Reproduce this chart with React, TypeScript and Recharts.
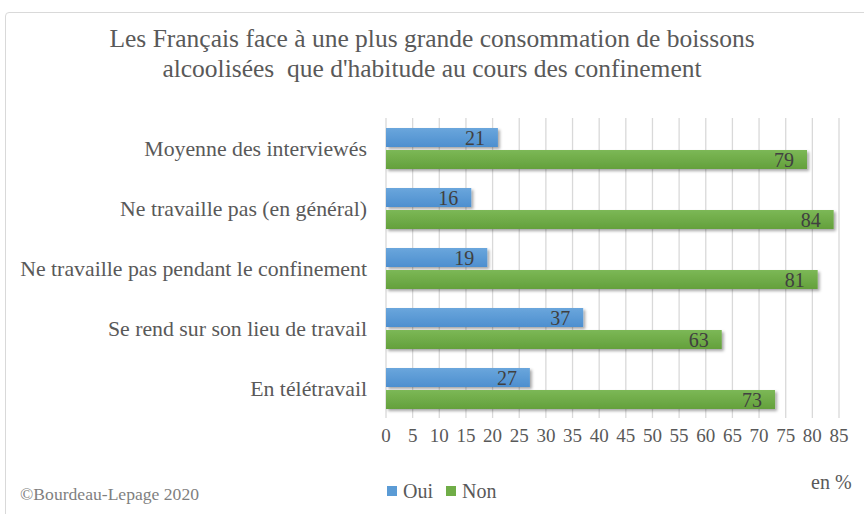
import { Bar, BarChart, CartesianGrid, LabelList, XAxis, YAxis } from "recharts";

const categories = [
  "Moyenne des interviewés",
  "Ne travaille pas (en général)",
  "Ne travaille pas pendant le confinement",
  "Se rend sur son lieu de travail",
  "En télétravail",
];
const oui = [21, 16, 19, 37, 27];
const non = [79, 84, 81, 63, 73];
const xTicks = [0, 5, 10, 15, 20, 25, 30, 35, 40, 45, 50, 55, 60, 65, 70, 75, 80, 85];

const FONT = "'Liberation Serif', 'Times New Roman', serif";
const TEXT = "#595959";

const data = categories.map((name, i) => ({ name, oui: oui[i], non: non[i] }));

// legend drawn as a plain block so it does not shrink the plot area
function LegendBlock() {
  const item = (color: string, label: string) => (
    <span style={{ display: "inline-flex", alignItems: "center", marginRight: 13 }}>
      <span style={{ width: 10, height: 10, background: color, display: "inline-block", marginRight: 6 }} />
      {label}
    </span>
  );
  return (
    <div style={{ position: "absolute", left: 387, top: 478, fontFamily: FONT, fontSize: 20, color: TEXT }}>
      {item("#5B9BD5", "Oui")}
      {item("#70AD47", "Non")}
    </div>
  );
}

export default function App() {
  return (
    <div style={{ position: "fixed", left: 0, top: 0, width: 864, height: 514, background: "#fff" }}>
      <div
        style={{
          position: "absolute",
          left: 5,
          top: 12,
          width: 870,
          height: 510,
          border: "1px solid #d9d9d9",
          borderRadius: 4,
          boxSizing: "border-box",
        }}
      />
      <div
        style={{
          position: "absolute",
          left: 0,
          top: 24,
          width: 864,
          textAlign: "center",
          fontFamily: FONT,
          fontSize: 25.5,
          lineHeight: "30px",
          color: TEXT,
        }}
      >
        Les Français face à une plus grande consommation de boissons
        <br />
        alcoolisées&nbsp; que d'habitude au cours des confinement
      </div>
      <BarChart
        width={864}
        height={514}
        data={data}
        layout="vertical"
        margin={{ top: 118, right: 25, bottom: 66, left: 0 }}
        barSize={19}
        barGap={3}
        style={{ position: "absolute", left: 0, top: 0 }}
      >
        <defs>
          <linearGradient id="gBlue" x1="0" y1="0" x2="0" y2="1">
            <stop offset="0%" stopColor="#6aa6dc" />
            <stop offset="100%" stopColor="#4d8fcf" />
          </linearGradient>
          <linearGradient id="gGreen" x1="0" y1="0" x2="0" y2="1">
            <stop offset="0%" stopColor="#7cb856" />
            <stop offset="100%" stopColor="#64a03c" />
          </linearGradient>
          <filter id="shadow" x="-5%" y="-30%" width="115%" height="180%">
            <feDropShadow dx="2" dy="2" stdDeviation="1.5" floodColor="#000" floodOpacity="0.35" />
          </filter>
        </defs>
        <CartesianGrid horizontal={false} stroke="#d9d9d9" strokeWidth={1.3} />
        <XAxis
          type="number"
          domain={[0, 85]}
          ticks={xTicks}
          height={30}
          axisLine={false}
          tickLine={false}
          tickSize={0}
          tickMargin={11}
          interval={0}
          tick={{ fontFamily: FONT, fontSize: 19, fill: TEXT }}
        />
        <YAxis
          type="category"
          dataKey="name"
          width={386}
          axisLine={false}
          tickLine={false}
          tickSize={0}
          tickMargin={19}
          tick={{ fontFamily: FONT, fontSize: 21.8, fill: TEXT }}
        />
        <Bar dataKey="oui" name="Oui" fill="url(#gBlue)" filter="url(#shadow)" isAnimationActive={false}>
          <LabelList dataKey="oui" position="insideRight" offset={13} style={{ fontFamily: FONT, fontSize: 20, fill: "#404040" }} />
        </Bar>
        <Bar dataKey="non" name="Non" fill="url(#gGreen)" filter="url(#shadow)" isAnimationActive={false}>
          <LabelList dataKey="non" position="insideRight" offset={13} style={{ fontFamily: FONT, fontSize: 20, fill: "#404040" }} />
        </Bar>
      </BarChart>
      <LegendBlock />
      <div style={{ position: "absolute", left: 811, top: 471, fontFamily: FONT, fontSize: 20, color: TEXT }}>en %</div>
      <div style={{ position: "absolute", left: 20, top: 484, fontFamily: FONT, fontSize: 17.6, color: "#7f7f7f" }}>
        ©Bourdeau-Lepage 2020
      </div>
    </div>
  );
}
